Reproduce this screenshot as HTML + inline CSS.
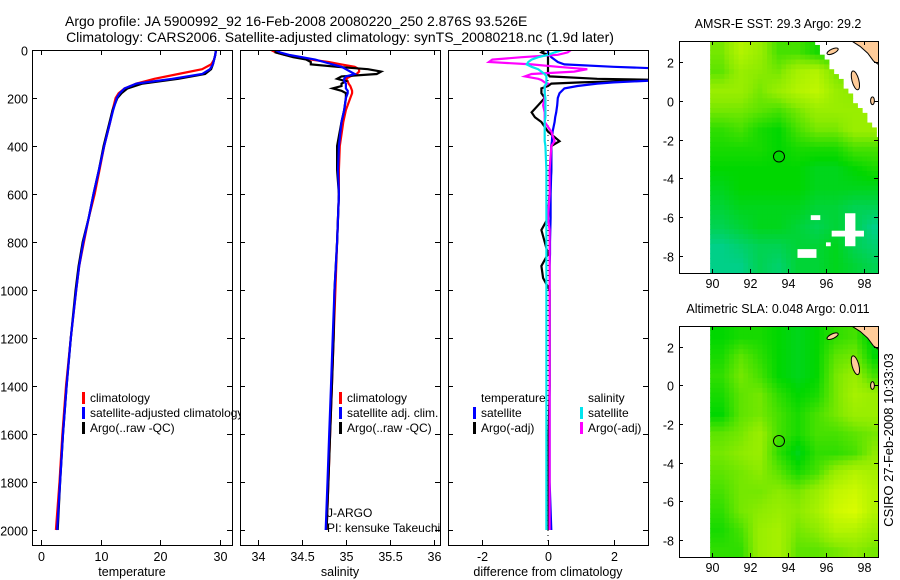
<!DOCTYPE html>
<html><head><meta charset="utf-8">
<style>
html,body{margin:0;padding:0;background:#fff;}
svg{display:block;font-family:"Liberation Sans",sans-serif;}
text{font-size:12.5px;fill:#000;}
text.lg{font-size:12px;}
</style></head>
<body>
<svg id="fig" width="900" height="580" viewBox="0 0 900 580">
<defs>
<clipPath id="c1"><rect x="32" y="50" width="200" height="495"/></clipPath>
<clipPath id="c2"><rect x="240" y="50" width="200" height="495"/></clipPath>
<clipPath id="c3"><rect x="448" y="50" width="200" height="495"/></clipPath>
<clipPath id="cm1"><rect x="679" y="41" width="199" height="232"/></clipPath>
<clipPath id="cm2"><rect x="679" y="326" width="199" height="231"/></clipPath>
</defs>
<text x="65" y="26" text-anchor="start" style="font-size:14px">Argo profile: JA 5900992_92 16-Feb-2008 20080220_250 2.876S 93.526E</text>
<text x="340" y="42" text-anchor="middle" style="font-size:14px">Climatology: CARS2006. Satellite-adjusted climatology: synTS_20080218.nc (1.9d later)</text>
<g id="g1"></g>
<g id="g2"></g>
<g id="g3"></g>
<g id="m1"></g>
<g id="m2"></g>
<text transform="translate(893,440) rotate(-90)" text-anchor="middle" style="font-size:13px">CSIRO 27-Feb-2008 10:33:03</text>
</svg>
<script>
// ---- profile data ----
const tDepths = [0,20,40,60,80,100,120,140,160,180,200,250,300,400,500,600,700,800,900,1000,1200,1400,1600,1800,2000];
const tArgo = [29.3,29.2,29.0,28.8,28.5,27.5,23,17,14.5,13.5,12.8,12,11.5,10.5,9.7,8.8,8,7,6.3,5.8,5,4.3,3.7,3.2,2.8];
const tClim = [29.3,29.2,29,28.5,27,23,19,16,14,13,12.5,12,11.6,10.6,9.8,9,8,7.2,6.4,5.9,5,4.2,3.6,3.1,2.5];
const tSat = [29.3,29.2,29.0,28.8,28.3,27,22,16,14,13.2,12.7,12.1,11.6,10.6,9.7,8.8,8,7.1,6.4,5.9,5,4.3,3.7,3.2,2.7];
const sDepths = [0,10,20,30,40,50,60,70,80,90,100,110,120,130,140,150,160,170,180,200,250,300,400,500,600,800,1000,1200,1400,1600,1800,2000];
const sArgo = [34.2,34.2,34.3,34.4,34.55,34.6,34.6,34.9,35.25,35.4,35.35,34.95,34.9,35.0,34.95,34.95,34.85,34.95,35.0,35.0,34.98,34.95,34.9,34.9,34.92,34.9,34.87,34.86,34.84,34.82,34.8,34.78];
const sClim = [34.15,34.2,34.3,34.45,34.6,34.8,34.95,35.1,35.15,35.15,35.12,35.05,35.0,35.02,35.03,35.05,35.06,35.07,35.07,35.05,35.0,34.97,34.93,34.92,34.92,34.9,34.88,34.86,34.84,34.82,34.8,34.78];
const sSat = [34.2,34.25,34.35,34.5,34.65,34.75,34.85,34.95,35.0,35.05,35.1,35.0,34.98,34.98,35.0,35.0,35.0,35.02,35.02,35.0,34.98,34.95,34.92,34.91,34.92,34.9,34.87,34.85,34.83,34.81,34.79,34.77];
const dDepths = [0,10,20,30,40,50,60,70,80,90,100,110,120,125,135,140,150,160,180,200,230,260,280,300,340,380,400,500,600,700,750,800,850,900,950,1000,1200,1400,1600,1800,2000];
const dTempSat = [0,0,0.05,0.1,0.2,0.3,0.5,2,4,5,5,5,4,3.5,2,1.5,0.9,0.5,0.35,0.3,0.28,0.25,0.22,0.2,0.14,0.12,0.1,0.1,0.08,0.08,0.07,0.06,0.06,0.05,0.05,0.05,0.05,0.05,0.05,0.05,0.1];
const dTempArgo = [-0.1,-0.2,0,0,0,0,0,0,0,0,0,0.05,1.5,3.5,1.0,0.1,0,-0.2,-0.2,-0.1,-0.3,-0.5,-0.4,-0.2,0,0.35,0.1,0.1,0.05,0,-0.2,-0.1,0,-0.2,-0.15,0.05,0.05,0.05,0.02,0.02,0.02];
const dSalSat = [0.45,0.2,0,-0.3,-0.5,-0.6,-0.65,-0.5,-0.3,-0.2,-0.1,-0.05,-0.05,-0.05,-0.05,-0.05,-0.1,-0.1,-0.1,-0.08,-0.08,-0.08,-0.08,-0.1,-0.1,-0.1,-0.08,-0.05,-0.05,-0.05,-0.05,-0.05,-0.05,-0.05,-0.05,-0.05,-0.05,-0.05,-0.05,-0.05,-0.05];
const dSalArgo = [0.7,0.6,0.3,-0.8,-1.7,-1.8,-0.5,0.3,1.2,0.8,-0.5,-0.7,-0.3,-0.2,-0.1,0,-0.1,-0.1,-0.1,-0.1,-0.15,-0.1,-0.1,-0.1,0.1,0.2,0.1,0.05,0.05,0.0,0.05,0.05,0.05,0.05,0.05,0.05,0.05,0.05,0.05,0.05,0.05];
const depthTicks = [0,200,400,600,800,1000,1200,1400,1600,1800,2000];
const tTicks = [0,10,20,30];
const sTicks = [34,34.5,35,35.5,36];
const sTickLabels = ["34","34.5","35","35.5","36"];
const dTicks = [-2,0,2];

// ---- map data (1-degree grid, rows lat 2.5 .. -8.5, cols lon 90.5 .. 98.5), normalized 0..1 ----
const sstGrid = [
[0.6,0.8,0.7,0.5,0.5,0.4,0.4,0.4,0.4],
[0.55,0.7,0.65,0.6,0.75,0.8,0.6,0.5,0.5],
[0.7,0.7,0.6,0.7,0.8,0.85,0.7,0.65,0.6],
[0.6,0.6,0.55,0.5,0.6,0.7,0.7,0.7,0.7],
[0.45,0.5,0.4,0.35,0.5,0.6,0.6,0.7,0.7],
[0.4,0.4,0.4,0.35,0.4,0.4,0.4,0.5,0.5],
[0.35,0.35,0.35,0.35,0.35,0.3,0.3,0.35,0.4],
[0.3,0.35,0.35,0.35,0.35,0.3,0.3,0.3,0.3],
[0.25,0.3,0.3,0.3,0.3,0.25,0.25,0.2,0.2],
[0.2,0.25,0.3,0.3,0.25,0.2,0.25,0.2,0.1],
[0.1,0.15,0.2,0.2,0.25,0.25,0.3,0.2,0.15],
[0.1,0.1,0.2,0.15,0.25,0.25,0.3,0.25,0.2]];
const slaGrid = [
[0.35,0.4,0.4,0.35,0.3,0.35,0.45,0.5,0.3],
[0.4,0.55,0.45,0.35,0.3,0.35,0.55,0.6,0.35],
[0.45,0.6,0.5,0.35,0.3,0.35,0.6,0.7,0.5],
[0.4,0.55,0.6,0.45,0.35,0.4,0.6,0.75,0.7],
[0.35,0.55,0.6,0.5,0.4,0.5,0.6,0.7,0.7],
[0.55,0.6,0.7,0.5,0.4,0.5,0.5,0.55,0.6],
[0.6,0.65,0.7,0.45,0.3,0.45,0.45,0.5,0.65],
[0.55,0.6,0.65,0.55,0.4,0.5,0.7,0.8,0.75],
[0.5,0.6,0.6,0.65,0.6,0.7,0.85,0.9,0.8],
[0.45,0.6,0.65,0.7,0.65,0.75,0.9,0.95,0.8],
[0.4,0.5,0.7,0.75,0.6,0.65,0.8,0.8,0.7],
[0.45,0.45,0.7,0.75,0.55,0.55,0.6,0.65,0.6]];
const latTicks = [2,0,-2,-4,-6,-8];
const lonTicks = [90,92,94,96,98];
const argoLon = 93.526, argoLat = -2.876;

const NS = "http://www.w3.org/2000/svg";
function mk(tag, attrs, parent){const e=document.createElementNS(NS,tag);for(const k in attrs)e.setAttribute(k,attrs[k]);parent.appendChild(e);return e;}
function txt(s,x,y,anchor,parent){const t=mk('text',{x:x,y:y,'text-anchor':anchor||'start'},parent);t.textContent=s;return t;}

function profilePanel(gid, x0, xmin, xmax, ticks, tickLabels, xlabel, clip){
  const g=document.getElementById(gid);
  const W=200, y0=50, H=495, dmax=2062.5;
  const sx=v=>x0+(v-xmin)/(xmax-xmin)*W;
  const sy=d=>y0+d/dmax*H;
  const bg=mk('rect',{x:x0,y:y0,width:W,height:H,fill:'#fff',stroke:'none'},g);
  
  
  return {g,sx,sy,x0,W,y0,H,ticks,tickLabels,xlabel,clip};
}
function finishAxes(p, showDepth){
  const {g,sx,sy,x0,W,y0,H}=p;
  const fr=mk('rect',{x:x0+0.5,y:y0+0.5,width:W,height:H,fill:'none',stroke:'#000','stroke-width':1},g);
  
  
  p.ticks.forEach((v,i)=>{
    const x=Math.round(sx(v))+0.5;
    mk('line',{x1:x,x2:x,y1:y0+H,y2:y0+H-5,stroke:'#000'},g);
    mk('line',{x1:x,x2:x,y1:y0,y2:y0+5,stroke:'#000'},g);
    const t=txt(p.tickLabels[i],x,y0+H+16,'middle',g);
    
    
  });
  depthTicks.forEach(d=>{
    const y=Math.round(sy(d))+0.5;
    mk('line',{x1:x0,x2:x0+5,y1:y,y2:y,stroke:'#000'},g);
    mk('line',{x1:x0+W,x2:x0+W-5,y1:y,y2:y,stroke:'#000'},g);
    if(showDepth){const t=txt(String(d),x0-4,y+5,'end',g);
      
      }
  });
  const xl=txt(p.xlabel,x0+W/2,y0+H+31,'middle',g);
  
  
}
function line(p, depths, vals, color, name){
  const pts=depths.map((d,i)=>p.sx(vals[i]).toFixed(1)+','+p.sy(d).toFixed(1)).join(' ');
  const l=mk('polyline',{points:pts,fill:'none',stroke:color,'stroke-width':2.2,'stroke-linejoin':'miter','clip-path':'url(#'+p.clip+')'},p.g);
  
  
}
function legend(g,x,y,color,label){
  if(color){const b=mk('rect',{x:x,y:y-10,width:3,height:12,fill:color},g);
    
    }
  const t=txt(label,x+8,y,'start',g);
  t.setAttribute('class','lg');
  
  
}

// Panel 1
const p1=profilePanel('g1',32,-1.5,32,tTicks,tTicks.map(String),'temperature','c1');
line(p1,tDepths,tClim,'#ff0000','temp-climatology-line');
line(p1,tDepths,tArgo,'#000000','temp-argo-line');
line(p1,tDepths,tSat,'#0000ff','temp-satellite-line');
finishAxes(p1,true);
legend(p1.g,82,402,'#ff0000','climatology');
legend(p1.g,82,417,'#0000ff','satellite-adjusted climatology');
legend(p1.g,82,432,'#000000','Argo(..raw -QC)');

// Panel 2
const p2=profilePanel('g2',240,33.795,36.07,sTicks,sTickLabels,'salinity','c2');
line(p2,sDepths,sClim,'#ff0000','sal-climatology-line');
line(p2,sDepths,sArgo,'#000000','sal-argo-line');
line(p2,sDepths,sSat,'#0000ff','sal-satellite-line');
finishAxes(p2,false);
legend(p2.g,339,402,'#ff0000','climatology');
legend(p2.g,339,417,'#0000ff','satellite adj. clim.');
legend(p2.g,339,432,'#000000','Argo(..raw -QC)');
{const a=txt('J-ARGO',327,517,'start',p2.g);a.setAttribute('class','lg');
 const b=txt('PI: kensuke Takeuchi',327,532,'start',p2.g);b.setAttribute('class','lg');}

// Panel 3
const p3=profilePanel('g3',448,-3.05,3.05,dTicks,dTicks.map(String),'difference from climatology','c3');
{const zl=mk('line',{x1:p3.sx(0),x2:p3.sx(0),y1:50,y2:545,stroke:'#000','stroke-dasharray':'1,4'},p3.g);
 }
line(p3,dDepths,dTempArgo,'#000000','diff-temp-argo-line');
line(p3,dDepths,dTempSat,'#0000ff','diff-temp-satellite-line');
line(p3,dDepths,dSalArgo,'#ff00ff','diff-sal-argo-line');
line(p3,dDepths,dSalSat,'#00e5ee','diff-sal-satellite-line');
finishAxes(p3,false);
legend(p3.g,473,402,null,'temperature');
legend(p3.g,473,417,'#0000ff','satellite');
legend(p3.g,473,432,'#000000','Argo(-adj)');
legend(p3.g,580,402,null,'salinity');
legend(p3.g,580,417,'#00e5ee','satellite');
legend(p3.g,580,432,'#ff00ff','Argo(-adj)');

// ---- maps ----
function cmap(v){
  const stops=[[0,[0,205,190]],[0.35,[0,215,0]],[0.65,[140,235,0]],[1,[230,255,0]]];
  v=Math.max(0,Math.min(1,v));
  for(let i=1;i<stops.length;i++){if(v<=stops[i][0]){const a=stops[i-1],b=stops[i],f=(v-a[0])/(b[0]-a[0]);
    return 'rgb('+a[1].map((c,k)=>Math.round(c+(b[1][k]-c)*f)).join(',')+')';}}
  return 'rgb(230,255,0)';
}
function sample(grid,lon,lat){
  let c=lon-90.5, r=2.5-lat;
  c=Math.max(0,Math.min(8,c)); r=Math.max(0,Math.min(11,r));
  const c0=Math.min(7,Math.floor(c)), r0=Math.min(10,Math.floor(r)), fc=c-c0, fr=r-r0;
  return grid[r0][c0]*(1-fc)*(1-fr)+grid[r0][c0+1]*fc*(1-fr)+grid[r0+1][c0]*(1-fc)*fr+grid[r0+1][c0+1]*fc*fr;
}
function drawMap(gid, grid, top, title, mask, clip){
  const g=document.getElementById(gid);
  const x0=679,W=199,lonMin=88.26,lonMax=98.74,latMax=3.08,latMin=-8.88,H=(top===41?232:231);
  const sx=l=>x0+(l-lonMin)/(lonMax-lonMin)*W;
  const sy=l=>top+(latMax-l)/(latMax-latMin)*H;
  const t=txt(title,778,top-13,'middle',g);
  
  const cg=mk('g',{'clip-path':'url(#'+clip+')'},g);
  const step=0.25;
  for(let lat=3.125;lat>-9;lat-=step){
    for(let lon=89.9;lon<98.75;lon+=step){
      const clat=lat-step/2, clon=lon+step/2;
      if(mask && clat>3.1-(clon-95.3)*1.4) continue;
      const v=sample(grid,clon,clat);
      const r=mk('rect',{x:sx(lon).toFixed(2),y:sy(lat).toFixed(2),width:(step/(lonMax-lonMin)*W+0.6).toFixed(2),height:(step/(latMax-latMin)*H+0.6).toFixed(2),fill:cmap(v)},cg);
      
      
    }
  }
  if(mask){
    [[95.2,-5.9,95.7,-6.15],[97.0,-5.8,97.55,-7.5],[96.3,-6.7,98.0,-7.0],[94.5,-7.65,95.5,-8.1],[96.0,-7.3,96.25,-7.5]].forEach(b=>{
      const r=mk('rect',{x:sx(b[0]),y:sy(b[1]),width:sx(b[2])-sx(b[0]),height:sy(b[3])-sy(b[1]),fill:'#fff'},cg);
      
    });
  }
  const land=[[97.0,3.2],[98.8,3.2],[98.8,1.85],[98.5,2.05],[98.2,2.45],[97.8,2.8],[97.4,3.05]];
  const lp=mk('polygon',{points:land.map(p=>sx(p[0])+','+sy(p[1])).join(' '),fill:'#ffcc99',stroke:'#000','stroke-width':1},cg);
  
  [[96.35,2.55,0.32,0.12,-25],[97.55,1.05,0.18,0.5,-15],[98.45,0.0,0.1,0.2,0]].forEach(e=>{
    const el=mk('ellipse',{cx:sx(e[0]),cy:sy(e[1]),rx:e[2]*W/(lonMax-lonMin),ry:e[3]*H/(latMax-latMin),fill:'#ffcc99',stroke:'#000',transform:'rotate('+e[4]+' '+sx(e[0])+' '+sy(e[1])+')'},cg);
    
  });
  const c=mk('circle',{cx:sx(argoLon),cy:sy(argoLat),r:5.5,fill:'none',stroke:'#000','stroke-width':1},g);
  
  const fr=mk('rect',{x:x0+0.5,y:top+0.5,width:W,height:H,fill:'none',stroke:'#000'},g);
  
  latTicks.forEach(l=>{const y=Math.round(sy(l))+0.5;
    mk('line',{x1:x0,x2:x0+4,y1:y,y2:y,stroke:'#000'},g);
    mk('line',{x1:x0+W,x2:x0+W-4,y1:y,y2:y,stroke:'#000'},g);
    const t=txt(String(l),x0-5,y+5,'end',g);
    });
  lonTicks.forEach(l=>{const x=Math.round(sx(l))+0.5;
    mk('line',{x1:x,x2:x,y1:top+H,y2:top+H-4,stroke:'#000'},g);
    mk('line',{x1:x,x2:x,y1:top,y2:top+4,stroke:'#000'},g);
    const t=txt(String(l),x,top+H+15,'middle',g);
    });
}
drawMap('m1',sstGrid,41,'AMSR-E SST: 29.3 Argo: 29.2',true,'cm1');
drawMap('m2',slaGrid,326,'Altimetric SLA: 0.048 Argo: 0.011',false,'cm2');
</script>
</body></html>
